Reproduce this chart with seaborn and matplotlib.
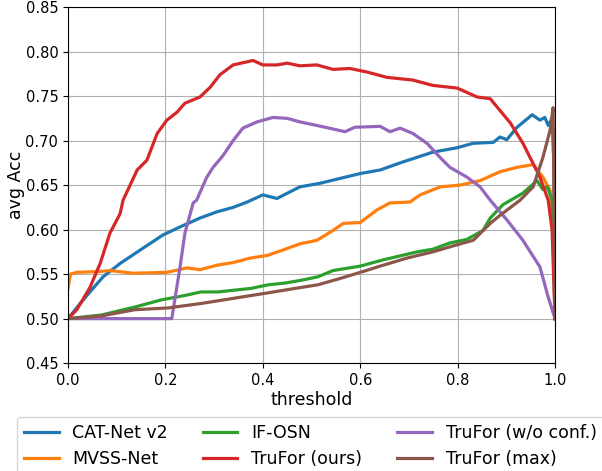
import matplotlib
matplotlib.use("Agg")
import matplotlib.pyplot as plt
import numpy as np
import pandas as pd
import seaborn as sns

# values (threshold, avg Acc)
catnet_x = [0.0, 0.025, 0.045, 0.072, 0.107, 0.148, 0.195, 0.23, 0.271, 0.306,
            0.339, 0.368, 0.40, 0.429, 0.476, 0.517, 0.60, 0.641, 0.682, 0.749,
            0.799, 0.832, 0.873, 0.887, 0.901, 0.922, 0.953, 0.969, 0.979,
            0.986, 0.994, 0.998, 1.0]
catnet_y = [0.50, 0.517, 0.530, 0.547, 0.562, 0.577, 0.594, 0.603, 0.613, 0.620,
            0.625, 0.631, 0.639, 0.635, 0.648, 0.652, 0.663, 0.667, 0.675, 0.687,
            0.692, 0.697, 0.698, 0.704, 0.701, 0.715, 0.729, 0.723, 0.726,
            0.717, 0.725, 0.67, 0.50]

mvss_x = [0.0, 0.005, 0.018, 0.066, 0.086, 0.134, 0.203, 0.244, 0.271, 0.306,
          0.339, 0.374, 0.409, 0.441, 0.476, 0.511, 0.544, 0.565, 0.60, 0.634,
          0.661, 0.702, 0.723, 0.764, 0.805, 0.846, 0.887, 0.922, 0.955, 0.975,
          0.99, 0.998, 1.0]
mvss_y = [0.534, 0.550, 0.552, 0.553, 0.554, 0.551, 0.552, 0.557, 0.555, 0.560,
          0.563, 0.568, 0.571, 0.577, 0.584, 0.588, 0.599, 0.607, 0.608, 0.622,
          0.630, 0.631, 0.639, 0.648, 0.650, 0.655, 0.665, 0.670, 0.673, 0.659,
          0.644, 0.60, 0.50]

ifosn_x = [0.0, 0.068, 0.137, 0.191, 0.24, 0.273, 0.308, 0.342, 0.376, 0.411,
           0.446, 0.478, 0.513, 0.544, 0.60, 0.647, 0.717, 0.749, 0.784, 0.819,
           0.852, 0.867, 0.893, 0.934, 0.963, 0.975, 0.984, 0.994, 1.0]
ifosn_y = [0.50, 0.504, 0.513, 0.521, 0.526, 0.530, 0.530, 0.532, 0.534, 0.538,
           0.540, 0.543, 0.547, 0.554, 0.559, 0.566, 0.575, 0.578, 0.585, 0.589,
           0.599, 0.613, 0.628, 0.641, 0.655, 0.645, 0.648, 0.633, 0.50]

trufor_x = [0.0, 0.018, 0.045, 0.066, 0.086, 0.107, 0.113, 0.142, 0.162, 0.183,
            0.203, 0.224, 0.24, 0.271, 0.292, 0.312, 0.339, 0.38, 0.40, 0.429,
            0.45, 0.476, 0.511, 0.544, 0.579, 0.614, 0.655, 0.708, 0.749, 0.799,
            0.84, 0.867, 0.908, 0.934, 0.969, 0.986, 0.994, 1.0]
trufor_y = [0.50, 0.510, 0.535, 0.562, 0.596, 0.618, 0.633, 0.667, 0.678, 0.708,
            0.723, 0.732, 0.742, 0.749, 0.760, 0.774, 0.785, 0.790, 0.785, 0.785,
            0.787, 0.784, 0.785, 0.780, 0.781, 0.777, 0.771, 0.768, 0.762, 0.759,
            0.749, 0.747, 0.720, 0.697, 0.659, 0.633, 0.599, 0.50]

noconf_x = [0.0, 0.213, 0.23, 0.24, 0.257, 0.264, 0.285, 0.298, 0.318, 0.339,
            0.359, 0.388, 0.421, 0.45, 0.476, 0.511, 0.569, 0.589, 0.641, 0.661,
            0.682, 0.708, 0.737, 0.764, 0.784, 0.819, 0.846, 0.867, 0.901, 0.934,
            0.969, 0.986, 1.0]
noconf_y = [0.50, 0.50, 0.558, 0.596, 0.630, 0.633, 0.659, 0.670, 0.683, 0.700,
            0.714, 0.721, 0.726, 0.725, 0.721, 0.717, 0.710, 0.715, 0.716, 0.710,
            0.714, 0.708, 0.697, 0.681, 0.670, 0.659, 0.648, 0.633, 0.611, 0.588,
            0.558, 0.524, 0.50]

trumax_x = [0.0, 0.068, 0.137, 0.205, 0.273, 0.342, 0.411, 0.478, 0.513, 0.558,
            0.60, 0.647, 0.696, 0.749, 0.799, 0.832, 0.867, 0.887, 0.928, 0.955,
            0.975, 0.99, 0.996, 1.0]
trumax_y = [0.50, 0.503, 0.510, 0.512, 0.517, 0.523, 0.529, 0.535, 0.538, 0.545,
            0.552, 0.560, 0.568, 0.575, 0.583, 0.588, 0.607, 0.616, 0.633, 0.648,
            0.681, 0.712, 0.737, 0.50]

labels = ["CAT-Net v2", "MVSS-Net", "IF-OSN", "TruFor (ours)",
          "TruFor (w/o conf.)", "TruFor (max)"]
series = [(catnet_x, catnet_y), (mvss_x, mvss_y), (ifosn_x, ifosn_y),
          (trufor_x, trufor_y), (noconf_x, noconf_y), (trumax_x, trumax_y)]

frames = []
for name, (xs, ys) in zip(labels, series):
    frames.append(pd.DataFrame({"threshold": xs, "avg Acc": ys, "method": name}))
df = pd.concat(frames, ignore_index=True)

fig, ax = plt.subplots(figsize=(6.02, 4.71), dpi=100)
fig.subplots_adjust(left=0.113, right=0.922, top=0.985, bottom=0.229)

sns.lineplot(data=df, x="threshold", y="avg Acc", hue="method",
             hue_order=labels, palette=sns.color_palette("tab10", 6),
             estimator=None, sort=False, linewidth=2.3, ax=ax)

ax.set_xlim(0, 1)
ax.set_ylim(0.45, 0.85)
ax.set_xticks(np.arange(0, 1.01, 0.2))
ax.set_yticks(np.arange(0.45, 0.851, 0.05))
ax.tick_params(labelsize=10.5)
ax.set_xlabel("threshold", fontsize=12.5, labelpad=2)
ax.set_ylabel("avg Acc", fontsize=12.5, labelpad=0.5)
ax.grid(True, color="#b0b0b0", linewidth=0.8)

ax.get_legend().remove()
handles, _ = ax.get_legend_handles_labels()
fig.legend(handles, labels, ncol=3, loc="upper left",
           bbox_to_anchor=(0.028, 0.115), fontsize=12.5,
           handlelength=2.0, columnspacing=2.0, borderaxespad=0)

fig.savefig("out.png", dpi=100)
